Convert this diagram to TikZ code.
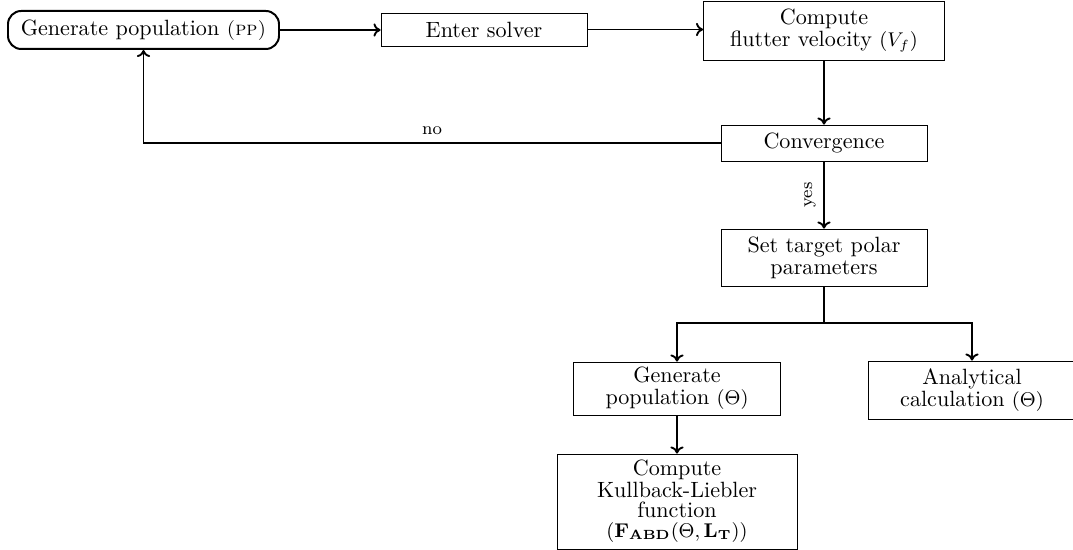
\documentclass[tikz,border=0pt]{standalone}
\usetikzlibrary{arrows.meta}
\def\upx{0.4525pt}
\begin{document}
\begin{tikzpicture}[x=0.4525pt,y=-0.4525pt,
  box/.style={draw,line width=0.4pt,align=center,inner sep=1pt},
  arr/.style={-{To[length=3.2pt,width=6pt]},line width=0.85pt},
  lbl/.style={font=\footnotesize}]
\useasboundingbox (0,0) rectangle (1073,550);
\node[box,rounded corners=6pt,line width=0.9pt,minimum width=271*\upx,minimum height=38*\upx] (gen) at (143.5,30) {Generate population {\small\textsc{(pp)}}};
\node[box,minimum width=206*\upx,minimum height=33*\upx] (enter) at (484,29.5) {Enter solver};
\node[box,minimum width=241*\upx,minimum height=59*\upx] (flutter) at (824,30.5) {Compute\\[-2pt] flutter velocity {\small($V_f$)}};
\node[box,minimum width=206*\upx,minimum height=36*\upx] (conv) at (824,143) {Convergence};
\node[box,minimum width=206*\upx,minimum height=57*\upx] (target) at (824,257.5) {Set target polar\\[-2pt] parameters};
\node[box,minimum width=207*\upx,minimum height=53*\upx] (genth) at (677,388.5) {Generate\\[-2pt] population {\small($\Theta$)}};
\node[box,minimum width=208*\upx,minimum height=58*\upx] (anal) at (972,390) {Analytical\\[-2pt] calculation {\small($\Theta$)}};
\node[box,minimum width=240*\upx,minimum height=95*\upx] (kl) at (677,501.5) {Compute\\[-2pt] Kullback-Liebler\\[-3pt] function\\[-3pt] {\small($\mathbf{F_{ABD}}(\Theta,\mathbf{L_T})$)}};
\coordinate (split) at (824,323);
\coordinate (back) at (143.5,143);
\draw[arr] (gen.east) -- (enter.west |- gen.east);
\draw[arr] (enter.east) -- (flutter.west |- enter.east);
\draw[arr] (flutter.south) -- (conv.north);
\draw[arr] (conv.west) -- (back) node[lbl,pos=0.5,above] {no} -- (gen.south);
\draw[arr] (conv.south) -- node[lbl,left,rotate=90,anchor=south] {yes} (target.north);
\draw[line width=0.85pt] (target.south) -- (split);
\draw[arr] (split) -| (genth.north);
\draw[arr] (split) -| (anal.north);
\draw[arr] (genth.south) -- (kl.north);
\end{tikzpicture}
\end{document}
